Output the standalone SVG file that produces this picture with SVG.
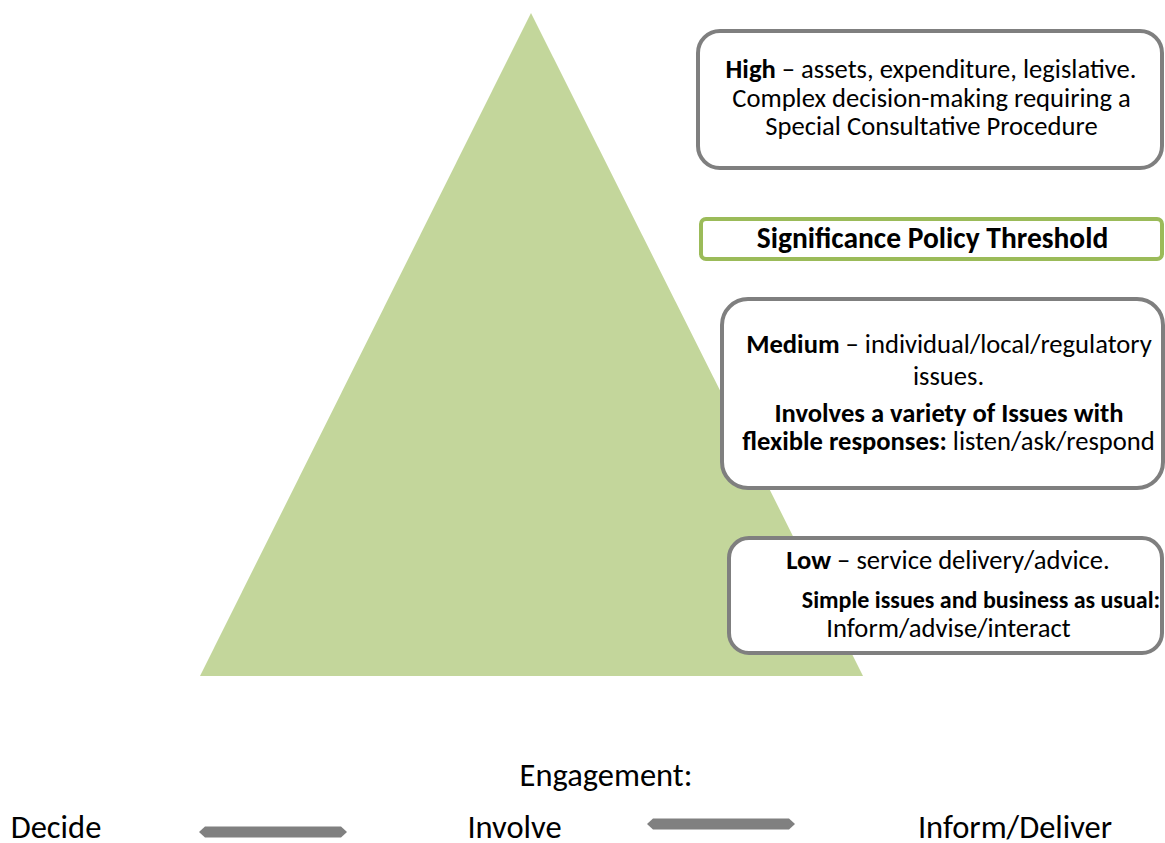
<svg xmlns="http://www.w3.org/2000/svg" width="1165" height="843" viewBox="0 0 1165 843">
  <style>
    .t { font-family: Carlito, Lato, "Liberation Sans", sans-serif; fill: #000; text-anchor: middle; }
    .s { font-size: 26.6px; }
    .b { font-weight: bold; }
    .big { font-size: 32.5px; }
    .box { fill: #fff; stroke: #7f7f7f; stroke-width: 4; }
    .thr { fill: #fff; stroke: #9bbb59; stroke-width: 4; }
    .arr { fill: #808080; }
  </style>
  <rect width="1165" height="843" fill="#fff"/>

  <!-- significance pyramid -->
  <g id="pyramid">
    <polygon points="531,13 863,676 200,676" fill="#c3d69b"/>
  </g>

  <g id="high">
    <rect class="box" x="698" y="31" width="464" height="137" rx="22"/>
    <text class="t s" x="931" y="78"><tspan class="b">High</tspan> – assets, expenditure, legislative.</text>
    <text class="t s" x="931.5" y="107">Complex decision-making requiring a</text>
    <text class="t s" x="931.5" y="135">Special Consultative Procedure</text>
  </g>

  <g id="threshold">
    <rect class="thr" x="701" y="219" width="461" height="40" rx="5"/>
    <text class="t b" style="font-size:29.5px" x="932.5" y="248">Significance Policy Threshold</text>
  </g>

  <g id="medium">
    <rect class="box" x="722" y="299" width="441" height="189" rx="26"/>
    <text class="t s" x="949" y="353"><tspan class="b">Medium</tspan> – individual/local/regulatory</text>
    <text class="t s" x="948.5" y="385">issues.</text>
    <text class="t s b" x="949" y="422">Involves a variety of Issues with</text>
    <text class="t s" x="948.5" y="450"><tspan class="b">flexible responses:</tspan> listen/ask/respond</text>
  </g>

  <g id="low">
    <rect class="box" x="729" y="538" width="433" height="115" rx="20"/>
    <text class="t s" x="948" y="569"><tspan class="b">Low</tspan> – service delivery/advice.</text>
    <text class="t b" style="font-size:24px" x="981" y="608">Simple issues and business as usual:</text>
    <text class="t s" x="948.5" y="637">Inform/advise/interact</text>
  </g>

  <!-- engagement scale -->
  <g id="engagement">
    <text class="t big" x="606" y="786">Engagement:</text>
  </g>
  <g id="decide">
    <text class="t big" x="56" y="838">Decide</text>
  </g>
  <g id="involve">
    <text class="t big" x="514.5" y="838">Involve</text>
  </g>
  <g id="inform">
    <text class="t big" x="1015" y="838">Inform/Deliver</text>
  </g>

  <g id="connectors">
    <polygon class="arr" points="199,832 205,826.5 341,826.5 347,832 341,837.5 205,837.5"/>
    <polygon class="arr" points="647,824 653,818.5 789,818.5 795,824 789,829.5 653,829.5"/>
  </g>
</svg>
